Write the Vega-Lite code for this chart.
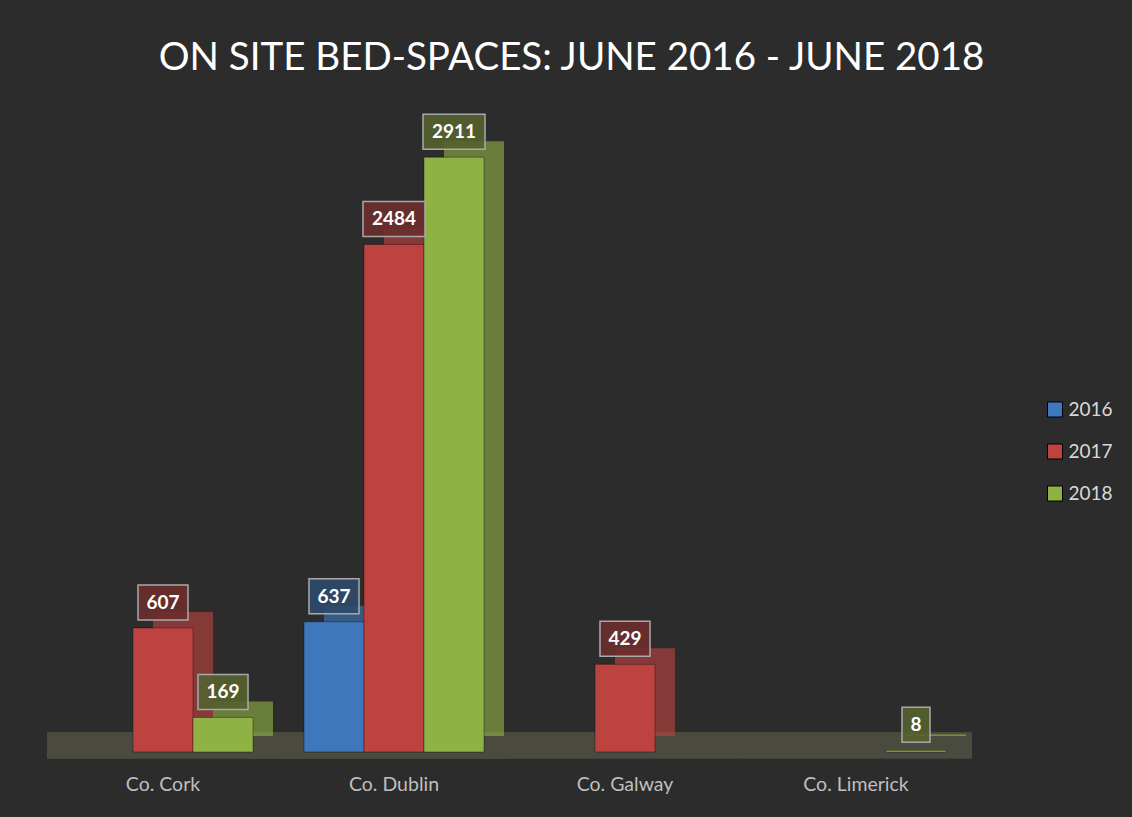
{
  "$schema": "https://vega.github.io/schema/vega-lite/v6.json",
  "width": 924,
  "height": 613,
  "autosize": {"type": "none"},
  "padding": {"left": 47.5, "top": 139, "right": 160.5, "bottom": 65},
  "background": "#2b2c2b",
  "title": {
    "text": "ON SITE BED-SPACES: JUNE 2016 - JUNE 2018",
    "font": "Lato",
    "fontSize": 38.5,
    "fontWeight": "normal",
    "color": "#ffffff",
    "anchor": "middle",
    "dx": 62,
    "baseline": "alphabetic",
    "offset": 5
  },
  "data": {
    "values": [
      {"county": "Co. Cork", "year": "2017", "value": 607},
      {"county": "Co. Cork", "year": "2018", "value": 169},
      {"county": "Co. Dublin", "year": "2016", "value": 637},
      {"county": "Co. Dublin", "year": "2017", "value": 2484},
      {"county": "Co. Dublin", "year": "2018", "value": 2911},
      {"county": "Co. Galway", "year": "2017", "value": 429},
      {"county": "Co. Limerick", "year": "2018", "value": 8}
    ]
  },
  "resolve": {"scale": {"xOffset": "independent"}},
  "layer": [
    {
      "mark": {"type": "bar", "color": "#4b4a3e", "stroke": "#4b4a3e", "strokeWidth": 1},
      "encoding": {
        "x": {
          "field": "county",
          "type": "nominal",
          "scale": {"domain": ["Co. Cork", "Co. Dublin", "Co. Galway", "Co. Limerick"], "paddingInner": 0, "paddingOuter": 0},
          "axis": {"title": null, "domain": false, "ticks": false, "labelAngle": 0, "labelFont": "Lato", "labelFontSize": 19.5, "labelColor": "#bfbfbf", "labelPadding": 23, "labelDx": -3}
        },
        "y": {"datum": -30, "type": "quantitative", "scale": {"domain": [0, 3000], "nice": false, "zero": false}, "axis": null},
        "y2": {"datum": 95}
      }
    },
    {
      "mark": {"type": "bar", "fillOpacity": 0.62, "yOffset": -16, "y2Offset": -16},
      "encoding": {
        "x": {"field": "county", "type": "nominal"},
        "xOffset": {"field": "year", "type": "nominal", "scale": {"domain": ["2016", "2017", "2018"], "paddingInner": 0, "paddingOuter": 0.425, "align": 0.892}},
        "y": {"field": "value", "type": "quantitative"},
        "fill": {
          "field": "year", "type": "nominal",
          "scale": {"domain": ["2016", "2017", "2018"], "range": ["#3f77bd", "#bd4340", "#8fb245"]},
          "legend": {
            "title": null, "orient": "none", "legendX": 998, "legendY": 261,
            "symbolType": "square", "symbolSize": 225, "symbolStrokeColor": "#1a1a1a", "symbolStrokeWidth": 1, "symbolOpacity": 1,
            "labelFont": "Lato", "labelFontSize": 19, "labelColor": "#d9d9d9", "rowPadding": 22, "labelOffset": 4, "padding": 0
          }
        }
      }
    },
    {
      "layer": [
        {
          "mark": {"type": "bar", "stroke": "#000000", "strokeOpacity": 0.35, "strokeWidth": 1},
          "encoding": {
            "x": {"field": "county", "type": "nominal"},
            "xOffset": {"field": "year", "type": "nominal", "scale": {"domain": ["2016", "2017", "2018"], "paddingInner": 0, "paddingOuter": 0.425}},
            "y": {"field": "value", "type": "quantitative"},
            "fill": {"field": "year", "type": "nominal"}
          }
        },
        {
          "transform": [{"filter": "datum.value >= 1000"}],
          "mark": {"type": "bar", "width": 62, "yOffset": -43, "y2Offset": -8, "fillOpacity": 0.9, "stroke": "#a9a9a9", "strokeWidth": 1.5},
          "encoding": {
            "x": {"field": "county", "type": "nominal"},
            "xOffset": {"field": "year", "type": "nominal"},
            "y": {"field": "value", "type": "quantitative"},
            "y2": {"field": "value"},
            "color": {"field": "year", "type": "nominal", "scale": {"domain": ["2016", "2017", "2018"], "range": ["#2e4a6b", "#6b2d2c", "#55622f"]}, "legend": null}
          }
        },
        {
          "transform": [{"filter": "datum.value >= 10 && datum.value < 1000"}],
          "mark": {"type": "bar", "width": 50, "yOffset": -43, "y2Offset": -8, "fillOpacity": 0.9, "stroke": "#a9a9a9", "strokeWidth": 1.5},
          "encoding": {
            "x": {"field": "county", "type": "nominal"},
            "xOffset": {"field": "year", "type": "nominal"},
            "y": {"field": "value", "type": "quantitative"},
            "y2": {"field": "value"},
            "color": {"field": "year", "type": "nominal", "legend": null}
          }
        },
        {
          "transform": [{"filter": "datum.value < 10"}],
          "mark": {"type": "bar", "width": 28, "yOffset": -43, "y2Offset": -8, "fillOpacity": 0.9, "stroke": "#a9a9a9", "strokeWidth": 1.5},
          "encoding": {
            "x": {"field": "county", "type": "nominal"},
            "xOffset": {"field": "year", "type": "nominal"},
            "y": {"field": "value", "type": "quantitative"},
            "y2": {"field": "value"},
            "color": {"field": "year", "type": "nominal", "legend": null}
          }
        },
        {
          "mark": {"type": "text", "font": "Lato", "fontSize": 19, "fontWeight": "bold", "color": "#ffffff", "align": "center", "baseline": "middle", "yOffset": -25},
          "encoding": {
            "x": {"field": "county", "type": "nominal"},
            "xOffset": {"field": "year", "type": "nominal"},
            "y": {"field": "value", "type": "quantitative"},
            "text": {"field": "value", "type": "quantitative"}
          }
        }
      ]
    }
  ],
  "config": {
    "view": {"stroke": null},
    "axis": {"grid": false}
  }
}
